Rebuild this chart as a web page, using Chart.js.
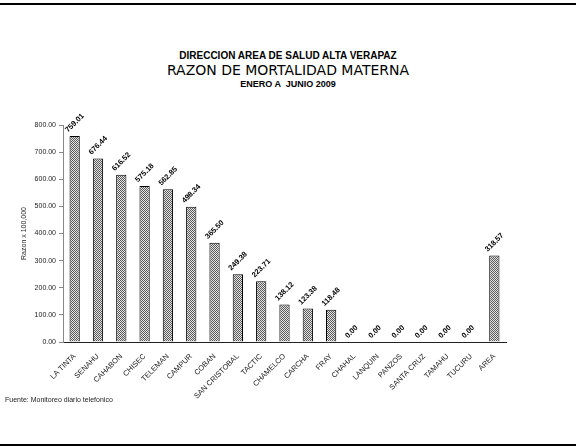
<!DOCTYPE html>
<html>
<head>
<meta charset="utf-8">
<script src="https://cdn.jsdelivr.net/npm/chart.js@4.4.0/dist/chart.umd.min.js"></script>
<style>
  body { margin: 0; background: #fff; }
  #wrap { position: relative; width: 576px; height: 447px; overflow: hidden; }
  #wrap canvas { position: absolute; left: 0; top: 0; }
  .rule { position: absolute; left: 0; width: 576px; height: 2px; background: #000; }
  .t { position: absolute; left: 0; width: 576px; text-align: center; color: #000; white-space: pre; }
  #foot { position: absolute; left: 5px; top: 396px; font: 7px "Liberation Sans", Arial, sans-serif; color: #222; }
</style>
</head>
<body>
<div id="wrap">
  <div class="rule" style="top:3px"></div>
  <div class="t" style="top:50px;font:bold 10px 'Liberation Sans',Arial,sans-serif;line-height:12px">DIRECCION AREA DE SALUD ALTA VERAPAZ</div>
  <div class="t" style="top:63px;font:14px 'DejaVu Sans',sans-serif;line-height:15px">RAZON DE MORTALIDAD MATERNA</div>
  <div class="t" style="top:79px;font:bold 9px 'Liberation Sans',Arial,sans-serif;line-height:11px">ENERO A  JUNIO 2009</div>
  <canvas id="myChart" width="576" height="447"></canvas>
  <div id="foot">Fuente: Monitoreo diario telefonico</div>
  <div class="rule" style="top:444px"></div>
</div>
<script>
const municipios = ["LA TINTA", "SENAHU", "CAHABON", "CHISEC", "TELEMAN", "CAMPUR", "COBAN",
  "SAN CRISTOBAL", "TACTIC", "CHAMELCO", "CARCHA", "FRAY", "CHAHAL", "LANQUIN", "PANZOS",
  "SANTA CRUZ", "TAMAHU", "TUCURU", "AREA"];
const razon = [759.01, 676.44, 616.52, 575.18, 562.85, 498.34, 365.50, 249.38, 223.71,
  138.12, 123.38, 118.48, 0, 0, 0, 0, 0, 0, 318.57];
const yMax = 800;
const yStep = 100;

// dotted grey fill like the scanned bars
function stipple() {
  const c = document.createElement("canvas");
  c.width = 2; c.height = 2;
  const g = c.getContext("2d");
  g.fillStyle = "#e4e4e4";
  g.fillRect(0, 0, 2, 2);
  g.fillStyle = "#5a5a5a";
  g.fillRect(0, 0, 1, 1);
  g.fillRect(1, 1, 1, 1);
  return g.createPattern(c, "repeat");
}

const valueLabels = {
  id: "valueLabels",
  afterDatasetsDraw(chart) {
    const ctx = chart.ctx;
    const meta = chart.getDatasetMeta(0);
    ctx.save();
    ctx.font = 'bold 7.5px "Liberation Sans", Arial, sans-serif';
    ctx.fillStyle = "#000";
    ctx.textBaseline = "middle";
    ctx.textAlign = "left";
    meta.data.forEach((bar, i) => {
      ctx.save();
      ctx.translate(bar.x - 8, bar.y - 5);
      ctx.rotate(-Math.PI / 4);
      ctx.fillText(razon[i].toFixed(2), 0, 0);
      ctx.restore();
    });
    ctx.restore();
  }
};

const ctx = document.getElementById("myChart").getContext("2d");
const chart = new Chart(ctx, {
  type: "bar",
  data: {
    labels: municipios,
    datasets: [{
      data: razon,
      backgroundColor: stipple(),
      borderColor: "#000",
      borderWidth: 1,
      barPercentage: 0.44,
      categoryPercentage: 1
    }]
  },
  options: {
    responsive: false,
    animation: false,
    layout: { padding: { left: 0, right: 70, top: 125, bottom: 0 } },
    plugins: {
      legend: { display: false },
      tooltip: { enabled: false }
    },
    scales: {
      x: {
        grid: { display: false },
        border: { color: "#222", width: 1 },
        ticks: {
          autoSkip: false,
          minRotation: 45,
          maxRotation: 45,
          padding: 2,
          color: "#222",
          font: { family: "Liberation Sans", size: 7.5 }
        },
        afterFit(scale) { scale.height = 105; }
      },
      y: {
        min: 0,
        max: yMax,
        ticks: {
          stepSize: yStep,
          padding: 3,
          color: "#222",
          font: { family: "Liberation Sans", size: 7 },
          callback: (v) => v.toFixed(2)
        },
        grid: { drawOnChartArea: false, tickLength: 4, color: "#888" },
        border: { color: "#888", dash: [2, 2] },
        title: {
          display: true,
          text: "Razon x 100,000",
          color: "#222",
          font: { family: "Liberation Sans", size: 7 },
          padding: { top: 20, bottom: 0 }
        },
        afterFit(scale) { scale.width = 63; }
      }
    }
  },
  plugins: [valueLabels]
});
</script>
</body>
</html>
